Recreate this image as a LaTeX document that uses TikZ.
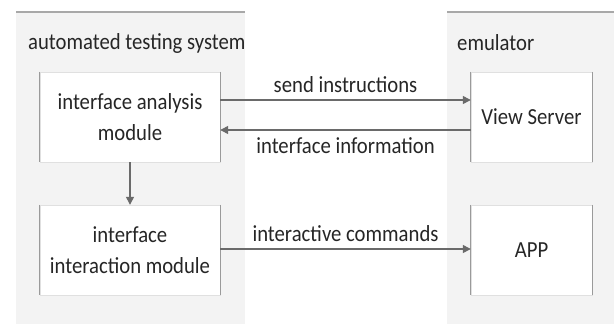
\documentclass[tikz,border=0pt]{standalone}
\usepackage{fontspec}
\setmainfont[FakeStretch=0.9]{Carlito}
\usetikzlibrary{arrows.meta}
\definecolor{contfill}{HTML}{F3F3F3}
\definecolor{topline}{HTML}{A8A8A8}
\definecolor{sideline}{HTML}{9A9A9A}
\definecolor{arrowc}{HTML}{6A6A6A}
\definecolor{textc}{HTML}{262626}
\tikzset{
  container/.style={fill=contfill, draw=none},
  modbox/.style={fill=white, draw=black!12, minimum width=180pt, minimum height=90pt, align=center, inner sep=0pt, font=\fontsize{23}{31}\selectfont, text=textc},
  smallbox/.style={modbox, minimum width=121pt},
  title/.style={font=\fontsize{23}{28}\selectfont, text=textc, anchor=west, inner sep=0pt},
  lbl/.style={font=\fontsize{23}{28}\selectfont, text=textc, inner sep=0pt},
  conn/.style={draw=arrowc, line width=1.3pt, -{Triangle[length=8pt,width=8pt]}},
  side/.style={draw=sideline, line width=1pt}
}
\begin{document}
\begin{tikzpicture}[x=1pt,y=-1pt]
\useasboundingbox (0,0) rectangle (615,324);
\fill[white] (0,0) rectangle (615,324);
% containers
\path[container] (16,12) rectangle (245,324);
\draw[topline, line width=1.2pt] (16,12) -- (245,12);
\path[container] (447,12) rectangle (614,324);
\draw[topline, line width=1.2pt] (447,12) -- (614,12);
\node[title] (t1) at (28,43) {automated testing system};
\node[title] (t2) at (457,43) {emulator};
% modules
\node[modbox] (ana) at (130,117) {interface analysis\\module};
\node[modbox] (int) at (130,250) {interface\\interaction module};
\node[smallbox] (vs) at (531.5,117) {View Server};
\node[smallbox] (app) at (531.5,250) {APP};
\foreach \n in {ana,int,vs,app}{
  \draw[side] (\n.north west) -- (\n.south west);
  \draw[side] (\n.north east) -- (\n.south east);
}
% connectors
\draw[conn] (ana.south) -- (int.north);
\draw[conn] ([yshift=17pt]ana.east) -- node[lbl, above=7pt] (l1) {send instructions} ([yshift=17pt]vs.west);
\draw[conn] ([yshift=-13pt]vs.west) -- node[lbl, below=7pt] (l2) {interface information} ([yshift=-13pt]ana.east);
\draw[conn] ([yshift=1pt]int.east) -- node[lbl, above=7pt] (l3) {interactive commands} ([yshift=1pt]app.west);
\end{tikzpicture}
\end{document}
